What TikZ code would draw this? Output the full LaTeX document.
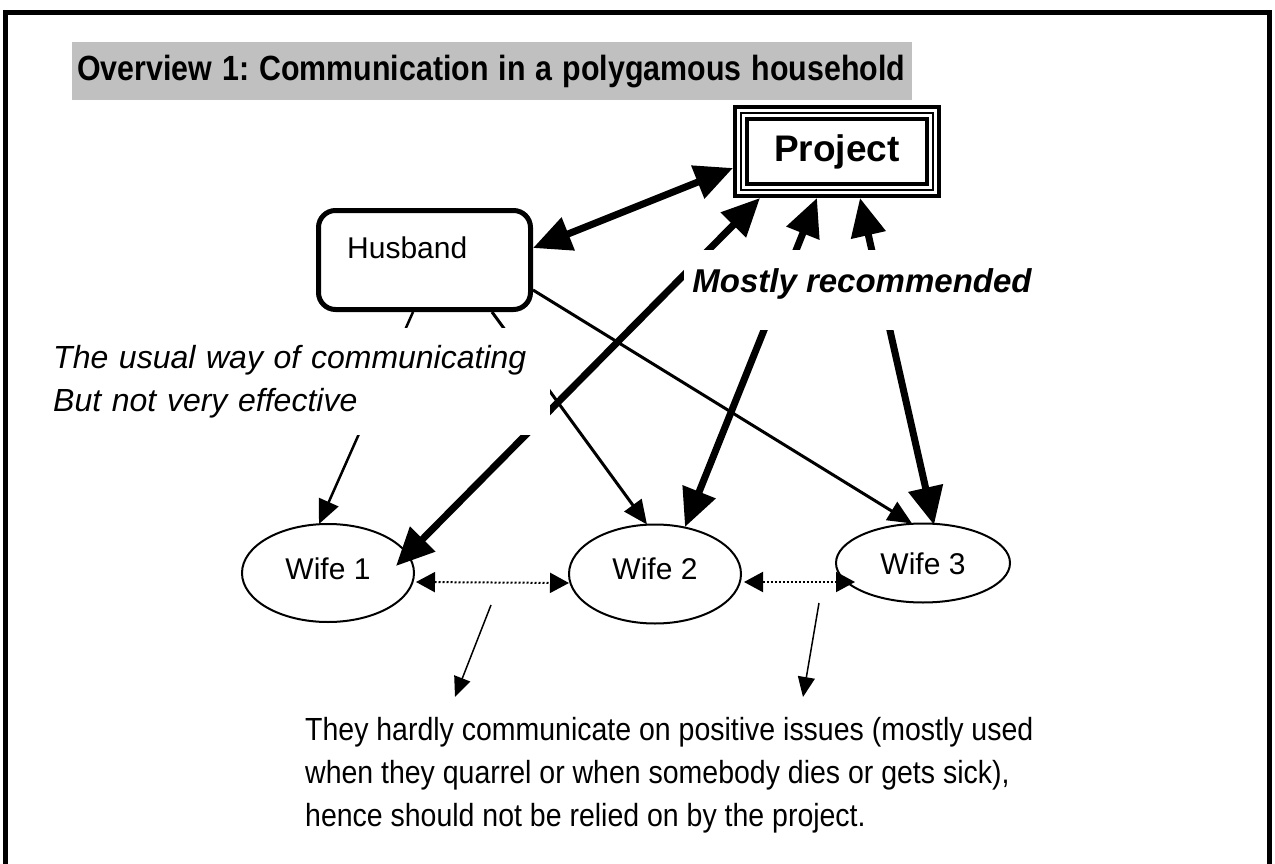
\documentclass[tikz,border=0pt]{standalone}
\usepackage{fontspec}
\usepackage{graphicx}
\setmainfont{Liberation Sans}
\newfontfamily\condfont[FakeStretch=0.89]{Liberation Sans}
\usetikzlibrary{arrows.meta,shapes.geometric,calc}
\definecolor{titlegray}{HTML}{C0C0C0}
\frenchspacing
\begin{document}
\begin{tikzpicture}[x=1pt,y=-1pt,
  titlebox/.style={fill=titlegray, anchor=north west, minimum width=840pt, minimum height=58pt,
    inner sep=0pt, text width=840pt, align=left,
    font=\fontsize{35}{42}\selectfont\bfseries},
  wife/.style={ellipse, draw, line width=2pt, inner sep=0pt, text height=22pt,
    font=\fontsize{30}{36}\selectfont},
  thickdbl/.style={line width=7pt, {Triangle[length=38pt,width=34pt]}-{Triangle[length=38pt,width=34pt]}},
  thinarrow/.style={line width=3pt, -{Triangle[length=24pt,width=21pt]}},
  pointer/.style={line width=1.5pt, -{Triangle[length=20pt,width=17pt]}},
  dottedarrow/.style={line width=2pt, dash pattern=on 2pt off 2pt,
    {Triangle[length=19pt,width=20pt]}-{Triangle[length=19pt,width=20pt]}},
  maskbox/.style={fill=white, inner sep=0pt}
]
\useasboundingbox (0,0) rectangle (1275,864);
\fill[white] (0,0) rectangle (1275,864);
% frame
\draw[line width=5pt] (5.5,870) -- (5.5,12.5) -- (1269.5,12.5) -- (1269.5,870);

% title
\node (title) [titlebox] at (72,42)
  {\hspace*{5pt}\resizebox{828pt}{\height}{Overview 1: Communication in a polygamous household}};

% project box (triple outline)
\node (proj) [draw, line width=4pt, minimum width=204pt, minimum height=89pt, inner sep=0pt,
  font=\fontsize{37}{44}\selectfont\bfseries] at (837,151.5) {Project};
\draw[line width=2.6pt] ($(proj.south west)+(8,-8)$) rectangle ($(proj.north east)+(-8,8)$);
\draw[line width=4pt] ($(proj.south west)+(13.7,-13.7)$) rectangle ($(proj.north east)+(-13.7,13.7)$);

% husband
\node (hus) [draw, rounded corners=17pt, line width=5pt, minimum width=212pt, minimum height=99pt] at (424.5,260) {};
\node (huslbl) [anchor=base west, inner sep=0pt, font=\fontsize{30}{36}\selectfont] at (347,258) {Husband};

% wives
\node (w1) [wife, text depth=10pt, minimum width=172pt, minimum height=98pt] at (328,573) {Wife 1};
\node (w2) [wife, text depth=12pt, minimum width=172pt, minimum height=99pt] at (655,574) {Wife 2};
\node (w3) [wife, text depth=0pt, minimum width=174pt, minimum height=79pt] at (923,563) {Wife 3};

% thick connectors
\draw[thickdbl] ($(hus.east)+(0,-12)$) -- ($(proj.west)+(0,16.5)$);
\draw[thickdbl] ($(proj.south west)+(27,0)$) -- ($(w1.center)+(68,-7)$);
\draw[thickdbl] ($(proj.south)+(-20,0)$) -- ($(w2.center)+(30,-47)$);
\draw[thickdbl] ($(proj.south)+(23,0)$) -- ($(w3.center)+(11,-38)$);

% thin connectors
\draw[thinarrow, line width=2.5pt] ($(hus.south)+(-11.5,0)$) -- ($(w1.north)+(-9,1)$);
\draw[thinarrow] ($(hus.south)+(67.5,0)$) -- ($(w2.north)+(-8,1)$);
\draw[thinarrow] ($(hus.east)+(0,30)$) -- ($(w3.north)+(-11,1)$);

% dotted connectors between wives
\draw[dottedarrow] ($(w1.center)+(88,9)$) -- ($(w2.center)+(-86,9)$);
\draw[dottedarrow] ($(w2.center)+(89,8)$) -- ($(w3.center)+(-68,19)$);

% white-backed labels
\node (usual) [maskbox, anchor=north west, minimum width=505pt, minimum height=107pt,
  inner xsep=8pt, text width=489pt, align=left,
  font=\fontsize{32}{43}\selectfont\itshape] at (45,328)
  {The usual way of communicating\\But not very effective};
\node (mostly) [maskbox, minimum width=357pt, minimum height=80pt, text height=24pt, text depth=20pt,
  font=\fontsize{33}{38}\selectfont\bfseries\itshape] at (862,290) {Mostly recommended};

% bottom text
\node (bottom) [anchor=north west, inner sep=0pt, align=left,
  font=\condfont\fontsize{32}{43}\selectfont] at (305,717)
  {They hardly communicate on positive issues (mostly used\\when they quarrel or when somebody dies or gets sick),\\hence should not be relied on by the project.};

% pointers to bottom text
\coordinate (p1s) at (491,605);
\coordinate (p1e) at (455,697);
\coordinate (p2s) at (819,603);
\coordinate (p2e) at (803,697);
\draw[pointer] (p1s) -- (p1e);
\draw[pointer] (p2s) -- (p2e);
\end{tikzpicture}
\end{document}
